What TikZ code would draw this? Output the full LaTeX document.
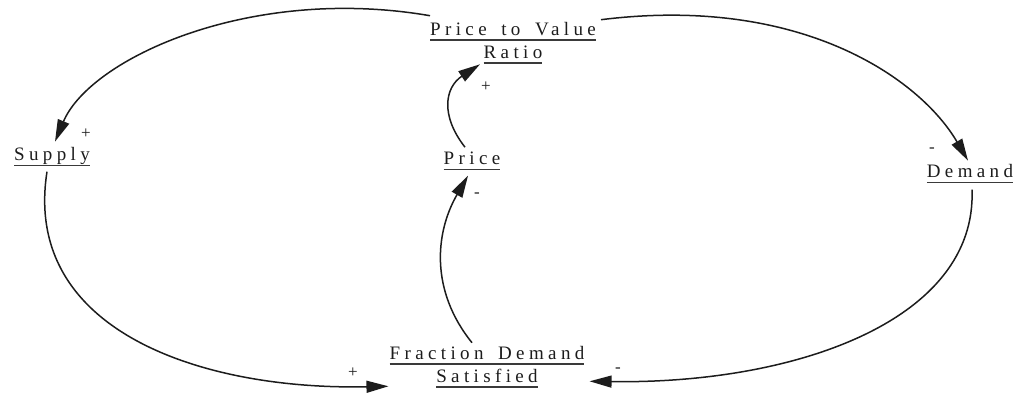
\documentclass[tikz,border=0pt]{standalone}
\usepackage{fontspec}
\setmainfont{Liberation Serif}
\newfontfamily\loopfont[LetterSpace=23,WordSpace=1.6]{Liberation Serif}
\usetikzlibrary{arrows.meta,calc}
\definecolor{LoopInk}{HTML}{1C1C1C}
\definecolor{LoopRule}{HTML}{3A3A3A}
\tikzset{
  loop var/.style={font=\loopfont\fontsize{19}{23.5}\selectfont, text=LoopInk, inner sep=0pt, align=center},
  loop sign/.style={font=\fontsize{17}{19}\selectfont, text=LoopInk, inner sep=0pt},
  loop link/.style={draw=LoopInk, line width=1.5pt, -{Triangle[length=22pt,width=12pt]}},
}
\newcommand{\LoopUl}[1]{\setbox0\hbox{#1}\leavevmode\rlap{\usebox0}\textcolor{LoopRule}{\rule[-5.5pt]{\wd0}{1.6pt}}}

\begin{document}
\begin{tikzpicture}[x=1pt,y=-1pt]
  \useasboundingbox (0,0) rectangle (1025,395);

  % variables
  \node[loop var] (ptv) at (513,43) {\LoopUl{Price to Value}\\\LoopUl{Ratio}};
  \node[loop var, anchor=base] (supply) at (52,161) {\LoopUl{Supply}};
  \node[loop var, anchor=base] (price) at (472,165) {\LoopUl{Price}};
  \node[loop var, anchor=base] (demand) at (970,178) {\LoopUl{Demand}};
  \node[loop var] (fds) at (487,367) {\LoopUl{Fraction Demand}\\\LoopUl{Satisfied}};

  % outer loop
  \draw[loop link] ($(ptv.north west)+(0,-6)$)
    .. controls +(-180,-31) and +(35,-83) .. ($(supply.north)+(3,-6)$);
  \draw[loop link] ($(ptv.north east)+(5,-2)$)
    .. controls +(200,-25) and +(-48,-82) .. ($(demand.north)+(-2,-4)$);
  \draw[loop link] ($(demand.south)+(2,6)$)
    .. controls +(5,130) and +(207,3) .. ($(fds.south east)+(5,-7)$);
  \draw[loop link] ($(supply.south)+(-5,5)$)
    .. controls +(-25,160) and +(-185,4) .. ($(fds.south west)+(-1,-2)$);

  % inner chain
  \draw[loop link] ($(fds.north)+(-15,-3)$)
    .. controls +(-42,-52) and +(-33,57) .. ($(price.south)+(-4,5)$);
  \draw[loop link] ($(price.north)+(-7,-5)$)
    .. controls +(-25,-32) and +(-35,23) .. ($(ptv.south)+(-33,0)$);

  % polarities
  \node[loop sign] (s1) at (86,134) {+};
  \node[loop sign] (s2) at (932,150) {-};
  \node[loop sign] (s3) at (618,370) {-};
  \node[loop sign] (s4) at (353,373) {+};
  \node[loop sign] (s5) at (477,195) {-};
  \node[loop sign] (s6) at (486,87) {+};
\end{tikzpicture}
\end{document}
